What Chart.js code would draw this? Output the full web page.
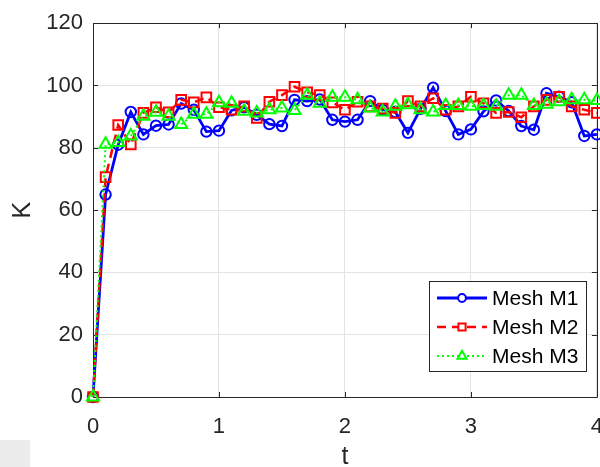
<!DOCTYPE html>
<html><head><meta charset="utf-8">
<script src="https://cdn.jsdelivr.net/npm/chart.js@4"></script>
<style>
html,body{margin:0;padding:0;background:#fff;overflow:hidden;width:600px;height:467px;}
#wrap{position:absolute;left:0;top:0;width:620px;height:472px;}
#corner{position:absolute;left:0;top:440px;width:30px;height:27px;background:#ececec;}
</style></head><body>
<div id="wrap"><canvas id="c" width="620" height="472"></canvas></div>
<div id="corner"></div>
<script>
const t = [0,0.1,0.2,0.3,0.4,0.5,0.6,0.7,0.8,0.9,1.0,1.1,1.2,1.3,1.4,1.5,1.6,1.7,1.8,1.9,2.0,2.1,2.2,2.3,2.4,2.5,2.6,2.7,2.8,2.9,3.0,3.1,3.2,3.3,3.4,3.5,3.6,3.7,3.8,3.9,4.0];
const meshM1 = [0,65,81,91.5,84.3,87.1,87.5,94.2,92.2,85.2,85.5,92,93,90.6,87.6,87,95.4,95,95.5,89,88.4,89,95,92.2,91.5,84.8,92.5,99.3,91.8,84.3,85.9,91.7,95.2,91.8,87,85.8,97.5,96.4,94.6,83.8,84.3];
const meshM2 = [0,70.6,87.3,81.1,91.2,93,91.4,95.4,94.6,96.2,93,92.2,93.3,89.6,94.8,96.9,99.6,97.8,96.9,94.6,92.2,94.8,93.3,92.6,91.2,95,93.3,95.9,92.2,93.3,96.4,94.3,91.2,91.5,89.8,93.3,95.4,96.4,93.3,92.2,91.2];
const meshM3 = [0,81.1,81.7,83.8,90.1,91.4,90.1,87.5,90.8,90.8,94.5,94.3,91.7,91.2,92.2,92.8,92,96.9,94.3,96.2,96.2,95.4,92.8,91.5,93.3,93.8,92.2,91.5,93.6,93.6,93.3,93.6,93.3,96.9,96.9,93.6,94,94.8,95.4,95.4,95.2];
const seriesNames = ['Mesh M1','Mesh M2','Mesh M3'];
const xTicks = [0,1,2,3,4];
const yTicks = [0,20,40,60,80,100,120];

const FONT = '"Liberation Sans", Arial, sans-serif';
const AX = '#262626';
const NONE = 'rgba(0,0,0,0)';

function mk(label, data, color, style, dash, radius, bw, order) {
  return {
    label, order,
    data: t.map((x, i) => ({x: x, y: data[i]})),
    borderColor: color, backgroundColor: NONE,
    pointBackgroundColor: NONE, pointBorderColor: color,
    pointStyle: style, pointRadius: radius, pointHoverRadius: radius,
    pointBorderWidth: 2, borderWidth: bw, borderDash: dash,
    tension: 0, clip: false, fill: false
  };
}

const frame = {
  id: 'frame',
  beforeDatasetsDraw(chart) {
    const {ctx, chartArea: a, scales: {x, y}} = chart;
    ctx.save();
    ctx.strokeStyle = AX; ctx.lineWidth = 1;
    ctx.beginPath();
    ctx.rect(Math.round(a.left) + 0.5, Math.round(a.top) + 0.5, Math.round(a.right - a.left), Math.round(a.bottom - a.top));
    const L = 5;
    xTicks.forEach(v => {
      const px = Math.round(x.getPixelForValue(v)) + 0.5;
      ctx.moveTo(px, a.bottom); ctx.lineTo(px, a.bottom - L);
      ctx.moveTo(px, a.top); ctx.lineTo(px, a.top + L);
    });
    yTicks.forEach(v => {
      const py = Math.round(y.getPixelForValue(v)) + 0.5;
      ctx.moveTo(a.left, py); ctx.lineTo(a.left + L, py);
      ctx.moveTo(a.right, py); ctx.lineTo(a.right - L, py);
    });
    ctx.stroke();
    ctx.restore();
  }
};

const legendBox = {
  id: 'legendBox',
  afterDraw(chart) {
    const ctx = chart.ctx;
    const bx = 429.5, by = 281.5, bw = 157, bh = 90;
    ctx.save();
    ctx.fillStyle = '#fff';
    ctx.fillRect(bx, by, bw, bh);
    ctx.strokeStyle = AX; ctx.lineWidth = 1;
    ctx.strokeRect(bx, by, bw, bh);
    const rows = [298, 327, 356];
    const ds = chart.data.datasets;
    ds.forEach((d, i) => {
      const yy = rows[i];
      ctx.strokeStyle = d.borderColor;
      ctx.lineWidth = d.borderWidth;
      ctx.setLineDash(d.borderDash || []);
      ctx.beginPath(); ctx.moveTo(437, yy); ctx.lineTo(487, yy); ctx.stroke();
      ctx.setLineDash([]);
      ctx.lineWidth = 2;
      ctx.fillStyle = '#fff';
      ctx.strokeStyle = d.borderColor;
      Chart.helpers.drawPoint(ctx, {pointStyle: d.pointStyle, radius: d.pointRadius * 0.75, borderWidth: 2}, 462, yy);
      ctx.fillStyle = '#000';
      ctx.font = '21px ' + FONT;
      ctx.textBaseline = 'middle'; ctx.textAlign = 'left';
      ctx.fillText(d.label, 492, yy + 1);
    });
    ctx.restore();
  }
};

new Chart(document.getElementById('c'), {
  type: 'line',
  data: {
    datasets: [
      mk(seriesNames[0], meshM1, '#0000ff', 'circle', [], 5.2, 2.8, 3),
      mk(seriesNames[1], meshM2, '#ff0000', 'rect', [9, 6], 6.8, 2.5, 2),
      mk(seriesNames[2], meshM3, '#00ff00', 'triangle', [2, 3], 7, 2, 1)
    ]
  },
  options: {
    responsive: false, animation: false,
    layout: {padding: {top: 17, right: 22, bottom: 0, left: 0}},
    plugins: {legend: {display: false}, tooltip: {enabled: false}},
    scales: {
      x: {
        type: 'linear', min: 0, max: 4,
        afterBuildTicks: s => { s.ticks = xTicks.map(v => ({value: v})); },
        afterFit: s => { s.height = 75; },
        ticks: {font: {size: 22, family: FONT}, color: AX, padding: 17, maxRotation: 0},
        grid: {color: '#e3e3e3', drawTicks: false, lineWidth: 1},
        border: {display: false},
        title: {display: true, text: 't', font: {size: 25, family: FONT}, color: AX, padding: {top: 0, bottom: 0}}
      },
      y: {
        type: 'linear', min: 0, max: 120,
        afterBuildTicks: s => { s.ticks = yTicks.map(v => ({value: v})); },
        afterFit: s => { s.width = 93; },
        ticks: {font: {size: 22, family: FONT}, color: AX, padding: 10},
        grid: {color: '#e3e3e3', drawTicks: false, lineWidth: 1},
        border: {display: false},
        title: {display: true, text: 'K', font: {size: 25, family: FONT}, color: AX, padding: {top: 8, bottom: 0}}
      }
    }
  },
  plugins: [frame, legendBox]
});
</script>
</body></html>
